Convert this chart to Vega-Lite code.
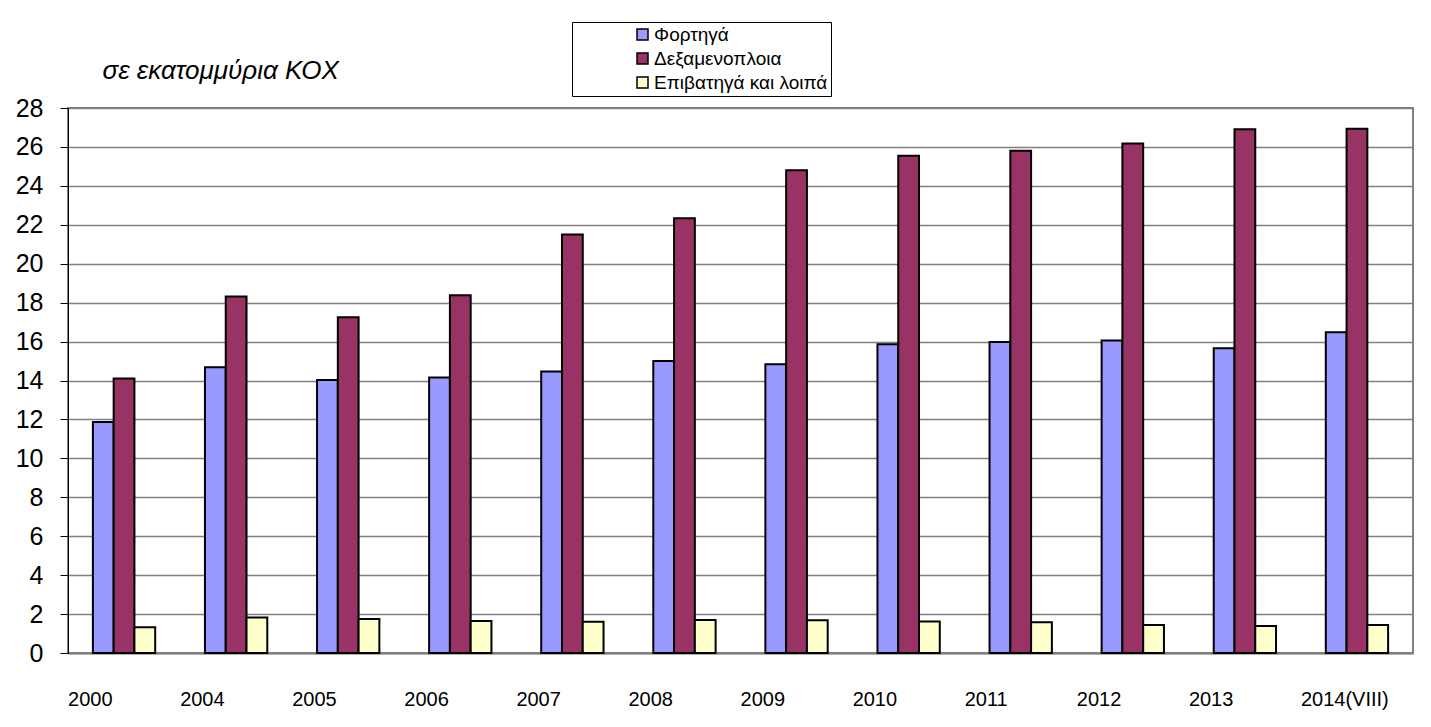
{
  "$schema": "https://vega.github.io/schema/vega-lite/v6.json",
  "width": 1345,
  "height": 545,
  "autosize": {"type": "none"},
  "padding": {"left": 68, "top": 108, "right": 18, "bottom": 74},
  "background": "white",
  "config": {
    "view": {"stroke": "#808080", "strokeWidth": 2},
    "font": "Liberation Sans"
  },
  "data": {
    "values": [
      {"year": "2000", "type": "Φορτηγά", "value": 11.87},
      {"year": "2000", "type": "Δεξαμενοπλοια", "value": 14.1},
      {"year": "2000", "type": "Επιβατηγά και λοιπά", "value": 1.32},
      {"year": "2004", "type": "Φορτηγά", "value": 14.68},
      {"year": "2004", "type": "Δεξαμενοπλοια", "value": 18.31},
      {"year": "2004", "type": "Επιβατηγά και λοιπά", "value": 1.83},
      {"year": "2005", "type": "Φορτηγά", "value": 14.03},
      {"year": "2005", "type": "Δεξαμενοπλοια", "value": 17.25},
      {"year": "2005", "type": "Επιβατηγά και λοιπά", "value": 1.75},
      {"year": "2006", "type": "Φορτηγά", "value": 14.15},
      {"year": "2006", "type": "Δεξαμενοπλοια", "value": 18.38},
      {"year": "2006", "type": "Επιβατηγά και λοιπά", "value": 1.64},
      {"year": "2007", "type": "Φορτηγά", "value": 14.46},
      {"year": "2007", "type": "Δεξαμενοπλοια", "value": 21.5},
      {"year": "2007", "type": "Επιβατηγά και λοιπά", "value": 1.61},
      {"year": "2008", "type": "Φορτηγά", "value": 15.0},
      {"year": "2008", "type": "Δεξαμενοπλοια", "value": 22.33},
      {"year": "2008", "type": "Επιβατηγά και λοιπά", "value": 1.7},
      {"year": "2009", "type": "Φορτηγά", "value": 14.83},
      {"year": "2009", "type": "Δεξαμενοπλοια", "value": 24.8},
      {"year": "2009", "type": "Επιβατηγά και λοιπά", "value": 1.68},
      {"year": "2010", "type": "Φορτηγά", "value": 15.86},
      {"year": "2010", "type": "Δεξαμενοπλοια", "value": 25.55},
      {"year": "2010", "type": "Επιβατηγά και λοιπά", "value": 1.62},
      {"year": "2011", "type": "Φορτηγά", "value": 15.98},
      {"year": "2011", "type": "Δεξαμενοπλοια", "value": 25.81},
      {"year": "2011", "type": "Επιβατηγά και λοιπά", "value": 1.58},
      {"year": "2012", "type": "Φορτηγά", "value": 16.05},
      {"year": "2012", "type": "Δεξαμενοπλοια", "value": 26.17},
      {"year": "2012", "type": "Επιβατηγά και λοιπά", "value": 1.44},
      {"year": "2013", "type": "Φορτηγά", "value": 15.66},
      {"year": "2013", "type": "Δεξαμενοπλοια", "value": 26.91},
      {"year": "2013", "type": "Επιβατηγά και λοιπά", "value": 1.39},
      {"year": "2014(VIII)", "type": "Φορτηγά", "value": 16.48},
      {"year": "2014(VIII)", "type": "Δεξαμενοπλοια", "value": 26.94},
      {"year": "2014(VIII)", "type": "Επιβατηγά και λοιπά", "value": 1.44}
    ]
  },
  "mark": {"type": "bar", "stroke": "black", "strokeWidth": 2},
  "encoding": {
    "x": {
      "field": "year",
      "type": "nominal",
      "sort": null,
      "scale": {"paddingInner": 0.444, "paddingOuter": 0.222},
      "axis": {
        "title": null,
        "labelAlign": "left",
        "labelOffset": -56,
        "labelAngle": 0,
        "labelOverlap": false,
        "labelBound": false,
        "labelFlush": false,
        "ticks": false,
        "domainColor": "#808080",
        "domainWidth": 2,
        "labelFontSize": 20,
        "labelColor": "black",
        "labelPadding": 36
      }
    },
    "xOffset": {
      "field": "type",
      "type": "nominal",
      "sort": ["Φορτηγά", "Δεξαμενοπλοια", "Επιβατηγά και λοιπά"]
    },
    "y": {
      "field": "value",
      "type": "quantitative",
      "scale": {"domain": [0, 28], "nice": false},
      "axis": {
        "values": [0, 2, 4, 6, 8, 10, 12, 14, 16, 18, 20, 22, 24, 26, 28],
        "title": "σε εκατομμύρια ΚΟΧ",
        "titleX": 34,
        "titleY": -30,
        "titleAngle": 0,
        "titleAlign": "left",
        "titleBaseline": "alphabetic",
        "titleFontStyle": "italic",
        "titleFontWeight": "normal",
        "titleFontSize": 26,
        "titleColor": "black",
        "labelFontSize": 25,
        "labelColor": "black",
        "labelPadding": 17,
        "tickSize": 8,
        "tickColor": "black",
        "domainColor": "black",
        "gridColor": "#808080",
        "gridWidth": 1.5,
        "gridOpacity": 1
      }
    },
    "color": {
      "field": "type",
      "type": "nominal",
      "scale": {
        "domain": ["Φορτηγά", "Δεξαμενοπλοια", "Επιβατηγά και λοιπά"],
        "range": ["#9999FF", "#993366", "#FFFFCC"]
      },
      "legend": {
        "title": null,
        "orient": "none",
        "legendX": 504,
        "legendY": -86,
        "strokeColor": "black",
        "fillColor": "white",
        "padding": 3,
        "symbolOffset": 58,
        "symbolType": "square",
        "symbolSize": 121,
        "symbolStrokeColor": "black",
        "symbolStrokeWidth": 1.5,
        "labelFontSize": 19,
        "labelColor": "black",
        "labelOffset": 2,
        "labelLimit": 0,
        "rowPadding": 4
      }
    }
  }
}
